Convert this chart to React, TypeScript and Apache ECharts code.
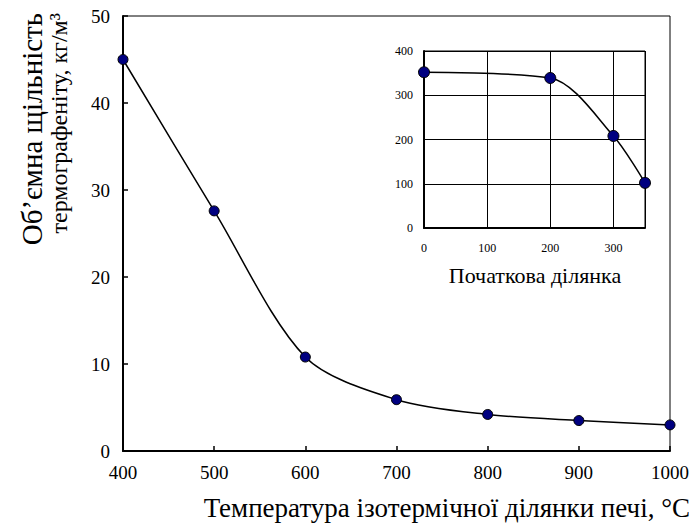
import React, { useEffect, useRef } from "react";
import * as echarts from "echarts";

const mainX = [400, 500, 600, 700, 800, 900, 1000];
const mainY = [45, 27.6, 10.8, 5.9, 4.2, 3.5, 3.0];
const insetX = [0, 200, 300, 350];
const insetY = [352, 339, 208, 102];

const yTitle1 = "Об’ємна щільність";
const yTitle2 = "термографеніту, кг/м³";
const xTitle = "Температура ізотермічної ділянки печі, °C";
const insetTitle = "Початкова ділянка";

const FONT = "Liberation Serif";

export default function App() {
  const ref = useRef<HTMLDivElement>(null);
  useEffect(() => {
    if (!ref.current) return;
    const chart = echarts.init(ref.current, null, { renderer: "svg" });
    const axisText = { color: "#000", fontFamily: FONT, formatter: (v: number) => String(v) };
    chart.setOption({
      animation: false,
      backgroundColor: "#fff",
      grid: [
        {
          left: 123,
          top: 16,
          width: 548,
          height: 435,
          show: true,
          borderColor: "#000",
          borderWidth: 1,
        },
        {
          left: 424,
          top: 51,
          width: 221,
          height: 177,
          show: true,
          borderColor: "#000",
          borderWidth: 1,
        },
      ],
      xAxis: [
        {
          type: "value",
          gridIndex: 0,
          min: 400,
          max: 1000,
          interval: 100,
          axisLine: { lineStyle: { color: "#000", width: 2 } },
          axisTick: { inside: true, length: 5, lineStyle: { color: "#000", width: 1.5 } },
          axisLabel: { ...axisText, fontSize: 19, margin: 12 },
          splitLine: { show: false },
        },
        {
          type: "value",
          gridIndex: 1,
          min: 0,
          max: 350,
          interval: 100,
          axisLine: { lineStyle: { color: "#000", width: 2 } },
          axisTick: { show: false },
          axisLabel: { ...axisText, fontSize: 12, margin: 14, showMaxLabel: false },
          splitLine: { show: true, lineStyle: { color: "#000", width: 1 } },
        },
      ],
      yAxis: [
        {
          type: "value",
          gridIndex: 0,
          min: 0,
          max: 50,
          interval: 10,
          axisLine: { show: true, lineStyle: { color: "#000", width: 2 } },
          axisTick: { show: true, inside: true, length: 5, lineStyle: { color: "#000", width: 1.5 } },
          axisLabel: { ...axisText, fontSize: 19, margin: 13 },
          splitLine: { show: false },
        },
        {
          type: "value",
          gridIndex: 1,
          min: 0,
          max: 400,
          interval: 100,
          axisLine: { show: true, lineStyle: { color: "#000", width: 2 } },
          axisTick: { show: false },
          axisLabel: { ...axisText, fontSize: 12, margin: 11 },
          splitLine: { show: true, lineStyle: { color: "#000", width: 1 } },
        },
      ],
      series: [
        {
          type: "line",
          xAxisIndex: 0,
          yAxisIndex: 0,
          data: mainX.map((x, i) => [x, mainY[i]]),
          smooth: 0.3,
          symbol: "circle",
          symbolSize: 10,
          lineStyle: { color: "#000", width: 1.5 },
          itemStyle: { color: "#000080", borderColor: "#000", borderWidth: 1 },
          clip: false,
        },
        {
          type: "line",
          xAxisIndex: 1,
          yAxisIndex: 1,
          data: insetX.map((x, i) => [x, insetY[i]]),
          smooth: 0.3,
          symbol: "circle",
          symbolSize: 11,
          lineStyle: { color: "#000", width: 1.5 },
          itemStyle: { color: "#000080", borderColor: "#000", borderWidth: 1 },
          clip: false,
        },
      ],
      graphic: [
        {
          type: "text",
          x: 32,
          y: 13,
          rotation: Math.PI / 2,
          style: {
            text: yTitle1,
            fontFamily: FONT,
            fontSize: 29,
            fill: "#000",
            textAlign: "right",
            textVerticalAlign: "middle",
          },
        },
        {
          type: "text",
          x: 59,
          y: 13,
          rotation: Math.PI / 2,
          style: {
            text: yTitle2,
            fontFamily: FONT,
            fontSize: 24,
            fill: "#000",
            textAlign: "right",
            textVerticalAlign: "middle",
          },
        },
        {
          type: "text",
          x: 690,
          y: 508,
          style: {
            text: xTitle,
            fontFamily: FONT,
            fontSize: 27,
            fill: "#000",
            textAlign: "right",
            textVerticalAlign: "middle",
          },
        },
        {
          type: "text",
          x: 535,
          y: 275,
          style: {
            text: insetTitle,
            fontFamily: FONT,
            fontSize: 22,
            fill: "#000",
            textAlign: "center",
            textVerticalAlign: "middle",
          },
        },
      ],
    });
    return () => chart.dispose();
  }, []);
  return (
    <div
      ref={ref}
      style={{ position: "fixed", left: 0, top: 0, width: 692, height: 530 }}
    />
  );
}
